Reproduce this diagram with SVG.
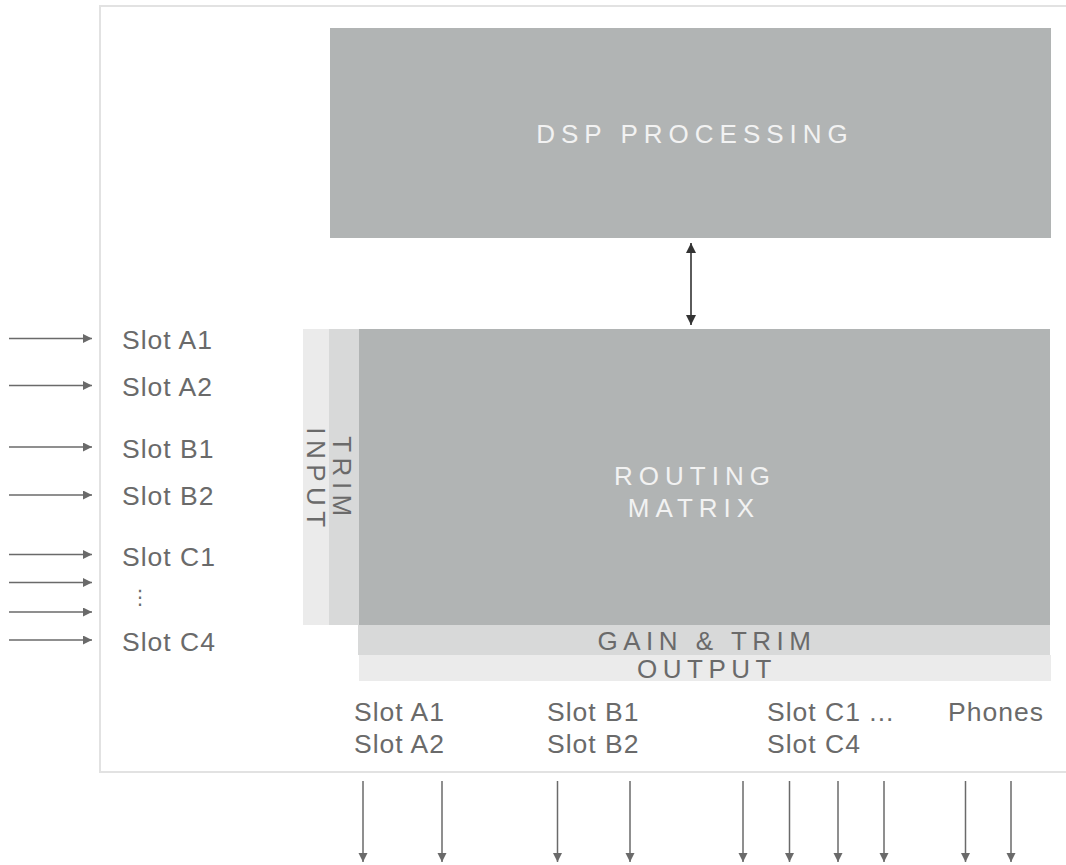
<svg xmlns="http://www.w3.org/2000/svg" width="1066" height="865" viewBox="0 0 1066 865">
<defs>
<style>
.lbl{font-family:"Liberation Sans",Arial,sans-serif;font-size:26.5px;letter-spacing:1px;fill:#6a6a6a}
.cap{font-family:"Liberation Sans",Arial,sans-serif;font-size:26px;letter-spacing:5.5px;fill:#6a6a6a}
.capw{font-family:"Liberation Sans",Arial,sans-serif;font-size:26px;letter-spacing:6px;fill:#f2f2f2}
.dark{fill:#b1b4b4}
.mid{fill:#d8d9d9}
.light{fill:#ebebeb}
.arr{stroke:#6a6a6a;stroke-width:1.5;fill:none}
.dbl{stroke:#333;stroke-width:1.6;fill:none}
</style>
<marker id="ah" markerWidth="10" markerHeight="10" refX="9" refY="4.5" orient="auto" markerUnits="userSpaceOnUse">
<path d="M0,0 L9,4.5 L0,9 Z" fill="#6a6a6a"/>
</marker>
<marker id="ahd" markerWidth="11" markerHeight="10" refX="10" refY="5" orient="auto-start-reverse" markerUnits="userSpaceOnUse">
<path d="M0,0 L10,5 L0,10 Z" fill="#333"/>
</marker>
</defs>
<rect width="1066" height="865" fill="#fff"/>
<g id="frame">
<path d="M1066,6 H100 V772 H1066" fill="none" stroke="#e2e2e2" stroke-width="2"/>
</g>
<g id="dsp">
<rect class="dark" x="330" y="28" width="721" height="210"/>
<text class="capw" x="695" y="143" text-anchor="middle">DSP PROCESSING</text>
</g>
<g id="routing">
<rect class="light" x="303" y="329" width="26" height="296"/>
<rect class="mid" x="329" y="329" width="30" height="296"/>
<rect class="dark" x="359" y="329" width="691" height="296"/>
<rect class="mid" x="358" y="625" width="692" height="30"/>
<rect class="light" x="359" y="655" width="692" height="26"/>
<text class="capw" x="695" y="485" text-anchor="middle">ROUTING</text>
<text class="capw" x="694" y="517" text-anchor="middle">MATRIX</text>
<text class="cap" x="707" y="650" text-anchor="middle">GAIN &amp; TRIM</text>
<text class="cap" x="707" y="678" text-anchor="middle">OUTPUT</text>
<text class="cap" transform="translate(307,480) rotate(90)" text-anchor="middle">INPUT</text>
<text class="cap" transform="translate(333,479) rotate(90)" text-anchor="middle">TRIM</text>
</g>
<g id="inputs">
<text class="lbl" x="122" y="349">Slot A1</text>
<text class="lbl" x="122" y="396">Slot A2</text>
<text class="lbl" x="122" y="458">Slot B1</text>
<text class="lbl" x="122" y="505">Slot B2</text>
<text class="lbl" x="122" y="566">Slot C1</text>
<text x="140" y="604" text-anchor="middle" style="font-family:'DejaVu Sans',sans-serif;font-size:20px;fill:#6a6a6a">⋮</text>
<text class="lbl" x="122" y="651">Slot C4</text>
</g>
<g id="outputs">
<text class="lbl" x="354" y="721">Slot A1</text>
<text class="lbl" x="354" y="753">Slot A2</text>
<text class="lbl" x="547" y="721">Slot B1</text>
<text class="lbl" x="547" y="753">Slot B2</text>
<text class="lbl" x="767" y="721">Slot C1 ...</text>
<text class="lbl" x="767" y="753">Slot C4</text>
<text class="lbl" x="948" y="721">Phones</text>
</g>
<g id="connectors">
<path class="dbl" d="M691,243 V325" marker-start="url(#ahd)" marker-end="url(#ahd)"/>
<g class="arr" marker-end="url(#ah)">
<path d="M9,338.5 H92"/>
<path d="M9,385.5 H92"/>
<path d="M9,447 H92"/>
<path d="M9,495 H92"/>
<path d="M9,554.5 H92"/>
<path d="M9,582.5 H92"/>
<path d="M9,612 H92"/>
<path d="M9,640 H92"/>
</g>
<g class="arr" marker-end="url(#ah)">
<path d="M363,781 V862"/>
<path d="M442,781 V862"/>
<path d="M557.5,781 V862"/>
<path d="M630,781 V862"/>
<path d="M743,781 V862"/>
<path d="M789.5,781 V862"/>
<path d="M838,781 V862"/>
<path d="M884,781 V862"/>
<path d="M965.5,781 V862"/>
<path d="M1011,781 V862"/>
</g>
</g>
</svg>
